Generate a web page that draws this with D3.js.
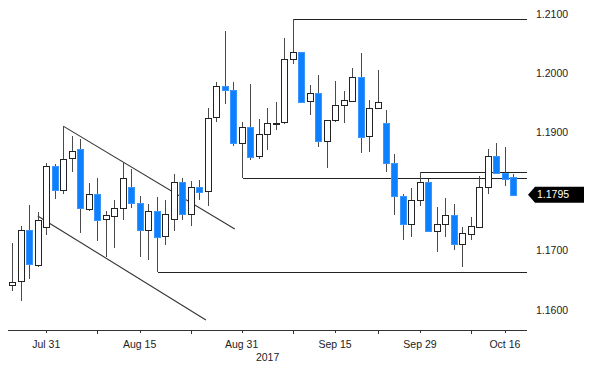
<!DOCTYPE html>
<html>
<head>
<meta charset="utf-8">
<script src="https://cdn.jsdelivr.net/npm/d3@7"></script>
<style>
  body { margin: 0; background: #fff; }
  svg { display: block; font-family: "Liberation Sans", Arial, sans-serif; }
</style>
</head>
<body>
<div id="chart"></div>
<script>
// EUR/USD daily candles, Jul 25 - Oct 17 2017
var firstDay = "2017-07-25", lastDay = "2017-10-17";
var skipDays = ["2017-10-09"];

var opens  = [1.1643,1.1648,1.1735,1.1676,1.1740,1.1843,1.1804,1.1857,1.1872,1.1772,
              1.1797,1.1754,1.1760,1.1772,1.1808,1.1781,1.1736,1.1768,1.1724,1.1753,
              1.1816,1.1762,1.1808,1.1800,1.1927,1.1979,1.1972,1.1883,1.1910,1.1859,
              1.1897,1.1915,1.1917,1.2024,1.2036,1.1953,1.1967,1.1886,1.1921,1.1947,
              1.1954,1.1994,1.1893,1.1941,1.1916,1.1848,1.1793,1.1746,1.1786,1.1817,
              1.1734,1.1745,1.1760,1.1711,1.1729,1.1741,1.1807,1.1860,1.1831,1.1825];
var highs  = [1.1713,1.1742,1.1777,1.1766,1.1848,1.1847,1.1911,1.1894,1.1889,1.1815,
              1.1824,1.1768,1.1786,1.1848,1.1839,1.1793,1.1779,1.1791,1.1786,1.1830,
              1.1824,1.1818,1.1820,1.1941,1.1986,1.2072,1.1985,1.1918,1.1982,1.1923,
              1.1941,1.1952,1.2060,1.2093,1.2037,1.1980,1.1997,1.1922,1.1988,1.1971,
              1.2009,1.2035,1.1955,1.2006,1.1938,1.1864,1.1797,1.1806,1.1834,1.1821,
              1.1774,1.1790,1.1779,1.1740,1.1757,1.1826,1.1872,1.1882,1.1876,1.1830];
var lows   = [1.1632,1.1615,1.1652,1.1673,1.1727,1.1787,1.1796,1.1834,1.1730,1.1768,
              1.1717,1.1690,1.1704,1.1752,1.1772,1.1690,1.1685,1.1664,1.1710,1.1733,
              1.1752,1.1742,1.1786,1.1776,1.1918,1.1949,1.1877,1.1823,1.1853,1.1855,
              1.1870,1.1904,1.1914,1.2017,1.1951,1.1930,1.1875,1.1841,1.1918,1.1917,
              1.1954,1.1865,1.1868,1.1941,1.1834,1.1760,1.1718,1.1724,1.1776,1.1734,
              1.1698,1.1723,1.1701,1.1672,1.1718,1.1741,1.1797,1.1830,1.1809,1.1795];
var closes = [1.1648,1.1735,1.1677,1.1752,1.1843,1.1803,1.1856,1.1869,1.1773,1.1797,
              1.1753,1.1760,1.1773,1.1823,1.1781,1.1736,1.1768,1.1724,1.1762,1.1816,
              1.1762,1.1808,1.1799,1.1924,1.1979,1.1972,1.1883,1.1910,1.1859,1.1897,
              1.1916,1.1917,1.2024,1.2036,1.1952,1.1967,1.1886,1.1921,1.1946,1.1955,
              1.1994,1.1893,1.1941,1.1951,1.1848,1.1793,1.1746,1.1786,1.1816,1.1734,
              1.1745,1.1760,1.1711,1.1730,1.1742,1.1808,1.1860,1.1831,1.1821,1.1795];

// horizontal levels: price and the date they start from
var levelPrices = [1.2093, 1.1834, 1.1823, 1.1664];
var levelFrom   = ["2017-09-08", "2017-09-29", "2017-08-31", "2017-08-17"];

// falling channel: [index, price] pairs
var channelUpper = [[6, 1.1911], [26.2, 1.1737]];
var channelLower = [[3, 1.1759], [22.8, 1.1583]];

var yTicks = [1.16, 1.17, 1.19, 1.20, 1.21];
var xLabelDates = ["2017-07-31", "2017-08-15", "2017-08-31", "2017-09-15", "2017-09-29", "2017-10-16"];
var xLabels = ["Jul 31", "Aug 15", "Aug 31", "Sep 15", "Sep 29", "Oct 16"];
var sepDates = ["2017-08-08", "2017-08-23", "2017-09-08", "2017-09-22", "2017-10-10"];
var yearLabel = "2017";

var W = 600, H = 377;
var plotL = 8, plotR = 527, plotT = 5, plotB = 330;
var ink = "#222";

var parse = d3.utcParse("%Y-%m-%d"), fmt = d3.utcFormat("%Y-%m-%d");
var days = d3.utcDay.range(parse(firstDay), d3.utcDay.offset(parse(lastDay), 1))
  .filter(d => d.getUTCDay() > 0 && d.getUTCDay() < 6 && !skipDays.includes(fmt(d)));
var dayIndex = {};
days.forEach((d, i) => dayIndex[fmt(d)] = i);

var candles = days.map((d, i) => ({i: i, o: opens[i], h: highs[i], l: lows[i], c: closes[i]}));

var x = d3.scaleLinear().domain([-0.5, days.length + 0.6]).range([plotL, plotR]);
var y = d3.scaleLinear().domain([1.1566, 1.2116]).range([plotB, plotT]);
var px = v => Math.round(v) + 0.5;

var svg = d3.select("#chart").append("svg").attr("width", W).attr("height", H);

// levels
svg.append("g").selectAll("path")
  .data(levelPrices)
  .join("path")
    .attr("fill", "none")
    .attr("stroke", ink)
    .attr("stroke-width", 1)
    .attr("shape-rendering", "crispEdges")
    .attr("d", (p, k) => {
      var i = dayIndex[levelFrom[k]];
      var xs = px(x(i));
      var yl = px(y(p));
      var yw = (p === highs[i]) ? y(highs[i]) : y(lows[i]);
      return "M" + xs + "," + px(yw) + "V" + yl + "H" + plotR;
    });

// channel
svg.append("g").selectAll("line")
  .data([channelUpper, channelLower])
  .join("line")
    .attr("stroke", "#333")
    .attr("stroke-width", 1.1)
    .attr("x1", d => x(d[0][0])).attr("y1", d => y(d[0][1]))
    .attr("x2", d => x(d[1][0])).attr("y2", d => y(d[1][1]));

// candles
var cg = svg.append("g").selectAll("g")
  .data(candles)
  .join("g");

cg.append("line")
  .attr("stroke", "#4a4a4a")
  .attr("shape-rendering", "crispEdges")
  .attr("x1", d => px(x(d.i))).attr("x2", d => px(x(d.i)))
  .attr("y1", d => y(d.h)).attr("y2", d => y(d.l));

cg.append("rect")
  .attr("shape-rendering", "crispEdges")
  .attr("x", d => Math.round(x(d.i)) - 2.5)
  .attr("width", 6)
  .attr("y", d => Math.round(y(Math.max(d.o, d.c))) + 0.5)
  .attr("height", d => Math.max(1, Math.round(Math.abs(y(d.o) - y(d.c)))))
  .attr("fill", d => d.c >= d.o ? "#fff" : "#0d80ff")
  .attr("stroke", d => d.c >= d.o ? ink : "#3a95ff")
  .attr("stroke-width", 1);

// x axis
var xa = svg.append("g");
xa.append("line")
  .attr("x1", plotL).attr("x2", plotR)
  .attr("y1", plotB + 0.5).attr("y2", plotB + 0.5)
  .attr("stroke", "#333");

var labIdx = xLabelDates.map(d => dayIndex[d]);
xa.selectAll(".sep")
  .data(sepDates)
  .join("line")
    .attr("class", "sep")
    .attr("x1", d => px(x(dayIndex[d]))).attr("x2", d => px(x(dayIndex[d])))
    .attr("y1", plotB).attr("y2", plotB + 4)
    .attr("stroke", "#333");
xa.selectAll(".tk")
  .data(labIdx)
  .join("line")
    .attr("class", "tk")
    .attr("x1", d => px(x(d))).attr("x2", d => px(x(d)))
    .attr("y1", plotB).attr("y2", plotB + 3)
    .attr("stroke", "#333");
xa.selectAll("text")
  .data(xLabels)
  .join("text")
    .attr("x", (d, k) => x(labIdx[k]))
    .attr("y", plotB + 18)
    .attr("text-anchor", "middle")
    .attr("font-size", "10.5px")
    .attr("fill", ink)
    .text(d => d);
xa.append("text")
  .attr("x", x(labIdx[2]) + 26)
  .attr("y", plotB + 31)
  .attr("text-anchor", "middle")
  .attr("font-size", "10.5px")
  .attr("fill", ink)
  .text(yearLabel);

// y axis on the right
svg.append("g").selectAll("text")
  .data(yTicks)
  .join("text")
    .attr("x", 536)
    .attr("y", d => y(d))
    .attr("dy", "0.35em")
    .attr("font-size", "10.5px")
    .attr("fill", ink)
    .text(d => d3.format(".4f")(d));

// last price tag
var last = candles[candles.length - 1].c, ly = y(last);
svg.append("path")
  .attr("d", "M528," + ly + "L535," + (ly - 8) + "H584V" + (ly + 8) + "H535Z")
  .attr("fill", "#000");
svg.append("text")
  .attr("x", 537).attr("y", ly).attr("dy", "0.35em")
  .attr("font-size", "10.5px")
  .attr("fill", "#fff")
  .text(d3.format(".4f")(last));
</script>
</body>
</html>
